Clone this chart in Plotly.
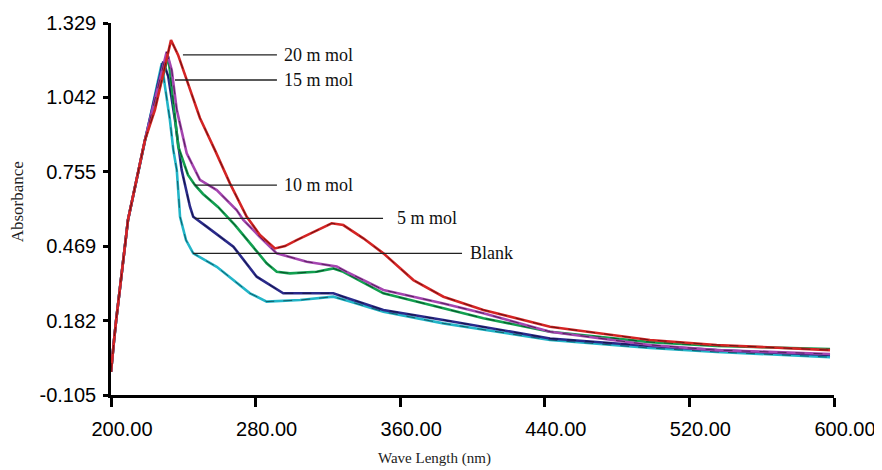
import plotly.graph_objects as go

# ---- data (wavelength nm, absorbance) ----
rise_x = [200.0, 201.1, 201.7, 202.8, 205.0, 207.7, 209.4, 218.8]
rise_y = [-0.016, 0.049, 0.107, 0.180, 0.300, 0.469, 0.570, 0.878]

red_x = [224.3, 233.2, 237.1, 243.7, 249.2, 257.5, 265.8, 275.1, 282.4, 290.7, 296.3, 302.7, 312.8,
         322.1, 328.5, 339.6, 350.7, 367.3, 383.9, 406.0, 442.9, 498.2, 535.1, 597.8]
red_y = [0.994, 1.263, 1.206, 1.071, 0.963, 0.839, 0.711, 0.582, 0.512, 0.460, 0.469, 0.492, 0.527,
         0.557, 0.550, 0.499, 0.441, 0.338, 0.274, 0.223, 0.158, 0.107, 0.088, 0.068]

mag_x = [230.8, 233.6, 236.4, 241.9, 249.2, 258.5, 269.5, 273.2, 282.4, 291.7, 308.3, 324.9, 330.4,
         350.7, 383.9, 406.0, 442.9, 498.2, 535.1, 597.8]
mag_y = [1.218, 1.148, 0.994, 0.827, 0.724, 0.685, 0.608, 0.570, 0.504, 0.441, 0.409, 0.390, 0.370,
         0.300, 0.248, 0.210, 0.139, 0.088, 0.068, 0.053]

grn_x = [231.7, 233.6, 235.4, 237.2, 242.6, 246.5, 250.9, 259.2, 268.6, 276.9, 286.1, 291.7, 299.0,
         313.8, 323.0, 328.5, 350.7, 383.9, 406.0, 442.9, 498.2, 535.1, 597.8]
grn_y = [1.199, 1.083, 0.955, 0.852, 0.743, 0.704, 0.670, 0.620, 0.550, 0.480, 0.403, 0.370, 0.364,
         0.370, 0.383, 0.370, 0.287, 0.229, 0.191, 0.139, 0.099, 0.084, 0.072]

nav_x = [228.9, 231.7, 235.4, 239.1, 243.7, 245.5, 252.9, 267.7, 280.6, 295.3, 310.1, 323.0, 328.5,
         350.7, 383.9, 406.0, 442.9, 498.2, 535.1, 597.8]
nav_y = [1.180, 1.122, 0.955, 0.762, 0.621, 0.582, 0.544, 0.467, 0.351, 0.287, 0.287, 0.287, 0.274,
         0.223, 0.184, 0.158, 0.113, 0.084, 0.068, 0.049]

cya_x = [228.1, 229.9, 232.6, 234.5, 236.4, 238.2, 241.5, 245.5, 258.5, 276.9, 286.1, 304.6, 323.0,
         332.2, 350.7, 383.9, 406.0, 442.9, 498.2, 535.1, 597.8]
cya_y = [1.174, 1.083, 0.955, 0.839, 0.762, 0.582, 0.492, 0.441, 0.389, 0.287, 0.255, 0.261, 0.274,
         0.255, 0.216, 0.171, 0.146, 0.107, 0.076, 0.061, 0.041]

series = [
    ("Blank", cya_x, cya_y, "#22b5c8"),
    ("5 m mol", nav_x, nav_y, "#2a2a8a"),
    ("10 m mol", grn_x, grn_y, "#12a050"),
    ("15 m mol", mag_x, mag_y, "#a545b0"),
    ("20 m mol", red_x, red_y, "#d42424"),
]

y_ticks = [-0.105, 0.182, 0.469, 0.755, 1.042, 1.329]
y_tick_text = ["-0.105", "0.182", "0.469", "0.755", "1.042", "1.329"]
x_ticks = [200, 280, 360, 440, 520, 600]
x_tick_text = ["200.00", "280.00", "360.00", "440.00", "520.00", "600.00"]

# label leader lines: (text, line start x, line end x, y, text x)
labels = [
    ("20 m mol", 239.8, 291.8, 1.206, 294.6),
    ("15 m mol", 235.4, 291.8, 1.109, 294.6),
    ("10 m mol", 246.5, 291.8, 0.704, 294.6),
    ("5 m mol", 246.5, 350.5, 0.576, 357.1),
    ("Blank", 245.4, 394.2, 0.441, 397.5),
]

fig = go.Figure()
for name, xs, ys, col in series:
    xx = rise_x + xs
    yy = rise_y + ys
    fig.add_trace(go.Scatter(x=xx, y=yy, mode="lines", name=name,
                             line=dict(color=col, width=2.6), showlegend=False,
                             hoverinfo="skip"))
    fig.add_trace(go.Scatter(x=xx, y=yy, mode="lines", name=name,
                             line=dict(color="rgba(0,0,0,0.55)", width=0.9, dash="dash"),
                             showlegend=False, hoverinfo="skip"))

serif = "Liberation Serif, Times New Roman, serif"
for text, x0, x1, y, tx in labels:
    fig.add_shape(type="line", x0=x0, x1=x1, y0=y, y1=y, xref="x", yref="y",
                  line=dict(color="#222222", width=1.4))
    fig.add_annotation(x=tx, y=y, xref="x", yref="y", text=text, showarrow=False,
                       xanchor="left", yanchor="middle",
                       font=dict(family=serif, size=18, color="#111111"))

fig.add_annotation(x=0.447, y=-0.17, xref="paper", yref="paper", text="Wave Length (nm)",
                   showarrow=False, xanchor="center", yanchor="middle",
                   font=dict(family=serif, size=15, color="#222222"))
fig.add_annotation(x=-0.129, y=0.52, xref="paper", yref="paper", text="Absorbance",
                   showarrow=False, textangle=-90, xanchor="center", yanchor="middle",
                   font=dict(family=serif, size=17, color="#222222"))

tickfont = dict(family="Liberation Sans, Arial, sans-serif", size=20, color="#000000")
# page body adds an 8px margin, so the figure is sized/offset to keep the plot area in place
fig.update_layout(
    width=874, height=462,
    margin=dict(l=103, r=48, t=15, b=75),
    paper_bgcolor="white", plot_bgcolor="white",
    xaxis=dict(range=[200, 600], tickvals=x_ticks, ticktext=x_tick_text, automargin=False,
               showgrid=False, zeroline=False, showline=True, linecolor="black", linewidth=2.5,
               ticks="outside", ticklen=9, tickwidth=2.5, tickcolor="black",
               ticklabelshift=11, ticklabelstandoff=5, ticklabeloverflow="allow",
               tickfont=tickfont),
    yaxis=dict(range=[-0.105, 1.329], tickvals=y_ticks, ticktext=y_tick_text, automargin=False,
               showgrid=False, zeroline=False, showline=True, linecolor="black", linewidth=2.5,
               ticks="outside", ticklen=5, tickwidth=2.5, tickcolor="black",
               ticklabelstandoff=3, ticklabeloverflow="allow",
               tickfont=tickfont),
)
fig.update_xaxes(tickprefix="<b>", ticksuffix="</b>")
fig.update_yaxes(tickprefix="<b>", ticksuffix="</b>")

fig.write_html("out.html")
